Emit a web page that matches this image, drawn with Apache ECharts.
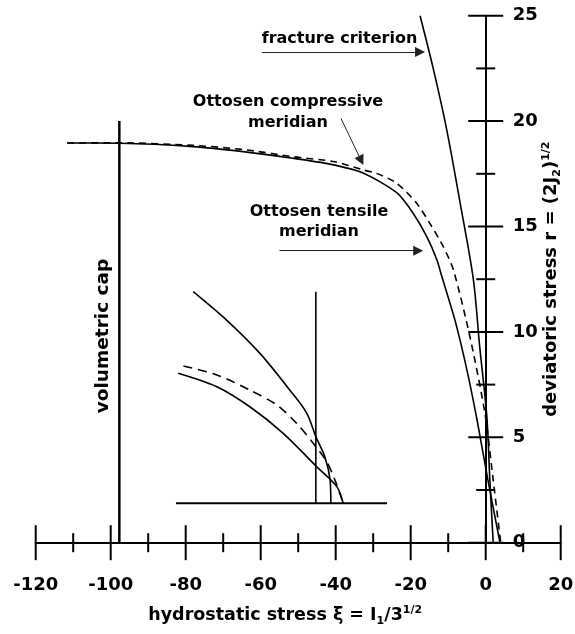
<!DOCTYPE html>
<html><head><meta charset="utf-8">
<script src="https://cdn.jsdelivr.net/npm/echarts@6/dist/echarts.min.js"></script>
<style>html,body{margin:0;padding:0;background:#fff}#c{width:575px;height:634px}</style>
</head><body><div id="c"></div>
<script>
const FONT = '"DejaVu Sans", "Liberation Sans", sans-serif';

// axis ranges and tick values
const xMin = -120, xMax = 20;
const yMin = 0, yMax = 25;
const xTickValues = [-120, -100, -80, -60, -40, -20, 0, 20];
const xMinorTicks = [-110, -90, -70, -50, -30, -10, 10];
const yTickValues = [0, 5, 10, 15, 20, 25];
const yMinorTicks = [2.5, 7.5, 12.5, 17.5, 22.5];

// fracture criterion
const fractureX = [-17.5, -14, -10.4, -6.8, -3.3, -1.6, 0.3, 1.1, 2.0];
const fractureY = [25, 22.5, 19.6, 16.1, 12.5, 9.3, 6.0, 3.0, 0];

// Ottosen tensile meridian (solid)
const tensileX = [-111.6, -97.5, -78, -64.7, -51.4, -41.5, -32.7, -23.65, -19.4, -15.65, -13.0, -11.65, -8.2, -5.0, -2.3, 0.6, 3.8];
const tensileY = [18.96, 18.95, 18.79, 18.55, 18.24, 17.96, 17.54, 16.59, 15.64, 14.5, 13.41, 12.6, 10.56, 8.19, 5.82, 2.97, 0];

// Ottosen compressive meridian (dashed)
const compX = [-111.6, -97.5, -78, -64.6, -51.3, -40.2, -32.6, -29.1, -23.7, -18.4, -14.9, -11.3, -8.6, -4.2, -0.2, 2.0, 4.0];
const compY = [18.96, 18.97, 18.85, 18.65, 18.31, 18.07, 17.68, 17.52, 17.05, 16.1, 15.15, 14.04, 12.94, 9.77, 6.14, 2.97, 0];

// volumetric cap
const capX = -97.7;
const capY = [0, 20];

// inset sketch
const insetSteepX = [-78.0, -69.1, -60.2, -52.2, -47.7, -45.3, -42.9, -41.5, -41.3];
const insetSteepY = [11.91, 10.56, 8.98, 7.23, 6.14, 5.03, 4.08, 2.98, 1.87];
const insetDashX = [-80.6, -71.7, -62.9, -55.7, -50.4, -46.0, -42.4, -40.2, -38.0];
const insetDashY = [8.38, 7.96, 7.24, 6.53, 5.66, 4.72, 3.84, 2.97, 1.87];
const insetLowX = [-82.0, -71.7, -62.9, -54.0, -45.1, -39.7, -38.0];
const insetLowY = [8.04, 7.4, 6.45, 5.19, 3.61, 2.66, 1.87];
const insetBaseX = [-82.6, -26.3];
const insetBaseY = 1.87;
const insetVertX = -45.3;
const insetVertY = [1.87, 11.91];

// annotation arrows [x1,y1,x2,y2]
const arrowFracture = [-59.7, 23.28, -17.5, 23.28];
const arrowComp = [-38.6, 20.13, -33.2, 18.13];
const arrowTensile = [-55.0, 13.85, -18.0, 13.85];

const zip = (xs, ys) => xs.map((x, i) => [x, ys[i]]);

const tickData = [];
xTickValues.forEach(v => tickData.push([v, 0, 0]));
xMinorTicks.forEach(v => tickData.push([v, 0, 1]));
yTickValues.forEach(v => tickData.push([0, v, 2]));
yMinorTicks.forEach(v => tickData.push([0, v, 3]));

const GRID = { left: 35.7, right: 14.3, top: 15.7, bottom: 91.3 };
const W = 575;
const gridWidth = W - GRID.left - GRID.right;
// y-axis sits at x = 0: shift it left from the grid's right edge
const yAxisOffset = -gridWidth * (xMax - 0) / (xMax - xMin);

const txt = { fontFamily: FONT, fontWeight: 'bold', color: '#000' };
const lineBase = { type: 'line', showSymbol: false, symbol: 'none', silent: true, animation: false };
const solid = (w) => ({ color: '#000', width: w, type: 'solid' });
const richName = {
  a: Object.assign({ fontSize: 17.5, lineHeight: 22 }, txt),
  sub: Object.assign({ fontSize: 11, lineHeight: 11, verticalAlign: 'bottom' }, txt),
  sup: Object.assign({ fontSize: 11, lineHeight: 11, verticalAlign: 'top' }, txt)
};

const chart = echarts.init(document.getElementById('c'));
chart.setOption({
  animation: false,
  grid: Object.assign({ containLabel: false, outerBoundsMode: 'none' }, GRID),
  xAxis: {
    type: 'value', min: xMin, max: xMax, interval: 20,
    axisLine: { onZero: false, lineStyle: { color: '#000', width: 2 } },
    axisTick: { show: false }, splitLine: { show: false },
    axisLabel: Object.assign({ margin: 34, fontSize: 18 }, txt),
    name: '{a|hydrostatic stress ξ = I}{sub|1}{a|/3}{sup|1/2}',
    nameLocation: 'middle', nameGap: 62, nameMoveOverlap: false,
    nameTextStyle: Object.assign({ fontSize: 17.5, padding: [0, 26, 0, 0] }, txt, { rich: richName })
  },
  yAxis: {
    type: 'value', min: yMin, max: yMax, interval: 5, position: 'right', offset: yAxisOffset,
    axisLine: { onZero: false, lineStyle: { color: '#000', width: 2 } },
    axisTick: { show: false }, splitLine: { show: false },
    axisLabel: Object.assign({ margin: 27, fontSize: 18 }, txt),
    name: '{a|deviatoric stress r = (2J}{sub|2}{a|)}{sup|1/2}',
    nameLocation: 'middle', nameRotate: 90, nameGap: 55, nameMoveOverlap: false,
    nameTextStyle: Object.assign({ fontSize: 18 }, txt, { rich: Object.assign({}, richName, { a: Object.assign({ fontSize: 18, lineHeight: 22 }, txt) }) })
  },
  series: [
    Object.assign({}, lineBase, { name: 'fracture criterion', data: zip(fractureX, fractureY), smooth: 0.3, lineStyle: solid(1.6) }),
    Object.assign({}, lineBase, { name: 'tensile', data: zip(tensileX, tensileY), smooth: 0.25, lineStyle: solid(1.6) }),
    Object.assign({}, lineBase, { name: 'compressive', data: zip(compX, compY), smooth: 0.25, lineStyle: { color: '#000', width: 1.6, type: [7, 5] } }),
    Object.assign({}, lineBase, { name: 'cap', data: capY.map(y => [capX, y]), lineStyle: solid(2.5) }),
    Object.assign({}, lineBase, { name: 'insetBase', data: insetBaseX.map(x => [x, insetBaseY]), lineStyle: solid(2) }),
    Object.assign({}, lineBase, { name: 'insetVert', data: insetVertY.map(y => [insetVertX, y]), lineStyle: solid(1.6) }),
    Object.assign({}, lineBase, { name: 'insetSteep', data: zip(insetSteepX, insetSteepY), smooth: 0.3, lineStyle: solid(1.6) }),
    Object.assign({}, lineBase, { name: 'insetDash', data: zip(insetDashX, insetDashY), smooth: 0.3, lineStyle: { color: '#000', width: 1.6, type: [9, 6] } }),
    Object.assign({}, lineBase, { name: 'insetLow', data: zip(insetLowX, insetLowY), smooth: 0.3, lineStyle: solid(1.6) }),
    {
      type: 'custom', coordinateSystem: 'cartesian2d', data: tickData, silent: true, z: 5, animation: false,
      renderItem(params, api) {
        const p = api.coord([api.value(0), api.value(1)]);
        const k = api.value(2);
        const L = (k === 0 || k === 2) ? 17.5 : 9.5;
        const shape = k < 2 ? { x1: p[0], y1: p[1] - L, x2: p[0], y2: p[1] + L }
                            : { x1: p[0] - L, y1: p[1], x2: p[0] + L, y2: p[1] };
        return { type: 'line', shape, style: { stroke: '#000', lineWidth: 2 } };
      }
    },
    {
      type: 'line', data: [], silent: true, animation: false,
      markLine: {
        silent: true, animation: false,
        symbol: ['none', 'triangle'], symbolSize: 10,
        label: { show: false },
        lineStyle: { color: '#222', width: 1, type: 'solid' },
        emphasis: { disabled: true },
        data: [arrowFracture, arrowComp, arrowTensile].map(a => [{ coord: [a[0], a[1]] }, { coord: [a[2], a[3]] }])
      }
    }
  ],
  graphic: [
    { type: 'text', x: 339.5, y: 38.5, style: { text: 'fracture criterion', font: 'bold 16px ' + FONT, textAlign: 'center', textVerticalAlign: 'middle', fill: '#000' } },
    { type: 'text', x: 288, y: 112, style: { text: 'Ottosen compressive\nmeridian', font: 'bold 16px ' + FONT, lineHeight: 21, textAlign: 'center', textVerticalAlign: 'middle', fill: '#000' } },
    { type: 'text', x: 319, y: 221.7, style: { text: 'Ottosen tensile\nmeridian', font: 'bold 16px ' + FONT, lineHeight: 20, textAlign: 'center', textVerticalAlign: 'middle', fill: '#000' } },
    { type: 'text', x: 103, y: 336, rotation: Math.PI / 2, style: { text: 'volumetric cap', font: 'bold 18.5px ' + FONT, textAlign: 'center', textVerticalAlign: 'middle', fill: '#000' } }
  ]
});
</script></body></html>
